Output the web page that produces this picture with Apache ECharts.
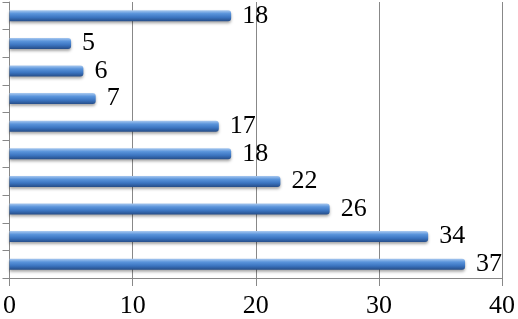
<!DOCTYPE html>
<html><head><meta charset="utf-8">
<script src="https://cdn.jsdelivr.net/npm/echarts@6/dist/echarts.min.js"></script>
<style>html,body{margin:0;padding:0;background:#fff}#c{width:518px;height:319px}</style>
</head><body><div id="c"></div>
<script>
// bottom to top
const categories = ['1','2','3','4','5','6','7','8','9','10'];
const values = [37, 34, 26, 22, 18, 17, 7, 6, 5, 18];
const tickValues = [0, 10, 20, 30, 40];

const chart = echarts.init(document.getElementById('c'), null, {renderer:'canvas'});
const font = "'Liberation Serif', 'Times New Roman', serif";
chart.setOption({
  animation: false,
  grid: {left: 7, right: 13, top: 2, bottom: 38, containLabel: false},
  xAxis: {
    type: 'value', min: tickValues[0], max: tickValues[tickValues.length-1], interval: 10,
    axisLine: {show: true, lineStyle: {color: '#888'}},
    axisTick: {show: true, length: 8, lineStyle: {color: '#888'}},
    splitLine: {show: true, lineStyle: {color: '#888', width: 1}},
    axisLabel: {color: '#000', fontFamily: font, fontSize: 26, margin: 15}
  },
  yAxis: {
    type: 'category', data: categories,
    axisLine: {show: true, lineStyle: {color: '#888'}},
    axisTick: {show: true, length: 7, lineStyle: {color: '#888'}},
    axisLabel: {show: false},
    splitLine: {show: false}
  },
  series: [{
    type: 'bar', data: values, barWidth: 11,
    itemStyle: {
      borderRadius: [0, 3, 3, 0],
      color: new echarts.graphic.LinearGradient(0, 0, 0, 1, [
        {offset: 0, color: '#a9c9f0'},
        {offset: 0.3, color: '#5a94db'},
        {offset: 0.65, color: '#3b74c0'},
        {offset: 1, color: '#264d88'}
      ]),
      shadowColor: 'rgba(0,0,0,0.35)', shadowBlur: 3, shadowOffsetY: 2
    },
    label: {show: true, position: 'right', distance: 11, color: '#000', fontFamily: font, fontSize: 26}
  }]
});
</script></body></html>
